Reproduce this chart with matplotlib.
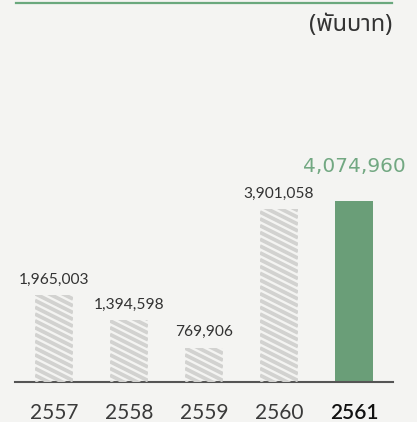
import numpy as np
import matplotlib
matplotlib.use('Agg')
import matplotlib.pyplot as plt
from matplotlib.collections import LineCollection

# data (thousand baht)
years = ['2557', '2558', '2559', '2560', '2561']
values = [1965003, 1394598, 769906, 3901058, 4074960]
unit_label = '(พันบาท)'

BG = '#f4f4f2'
GREEN = '#6a9e78'
GREEN_TXT = '#72a882'
STRIPE = '#d2d2d0'

fig = plt.figure(figsize=(4.17, 4.22), dpi=100, facecolor=BG)
H = 422.0
W = 417.0
ax = fig.add_axes([15 / W, (H - 382) / H, 378 / W, 322 / H])
ax.set_facecolor(BG)

x = np.arange(len(years))
ax.set_xlim(-0.52, 4.52)
ax.set_ylim(0, 322 / 44.3 * 1e6)

colors = [BG] * (len(years) - 1) + [GREEN]
bars = ax.bar(x, values, width=0.507, color=colors, linewidth=0, zorder=2)

# diagonal stripes on the grey bars
p0 = ax.transData.transform((0, 0))
p1 = ax.transData.transform((1, 1e6))
kx = p1[0] - p0[0]
ky = (p1[1] - p0[1]) / 1e6
period = 6.8
slope = 0.5
for b in bars[:-1]:
    bx, by = b.get_x(), b.get_y()
    wpx = b.get_width() * kx
    hpx = b.get_height() * ky
    segs = []
    c = 0.0
    while c < hpx + slope * wpx + period:
        segs.append([(bx, by + c / ky), (bx + wpx / kx, by + (c - slope * wpx) / ky)])
        c += period
    lc = LineCollection(segs, colors=STRIPE, linewidths=2.7, zorder=3)
    ax.add_collection(lc, autolim=False)
    lc.set_clip_path(b)

# value labels
for i, v in enumerate(values):
    if i == len(values) - 1:
        ax.annotate(f'{v:,}', (x[i], v), xytext=(0, 21), textcoords='offset points',
                    ha='center', va='baseline', fontsize=14.5, color=GREEN_TXT,
                    family='DejaVu Sans')
    else:
        ax.annotate(f'{v:,}', (x[i], v), xytext=(0, 8.3), textcoords='offset points',
                    ha='center', va='baseline', fontsize=11.2, color='#333333',
                    family='Lato')

# axis
for s in ['top', 'right', 'left']:
    ax.spines[s].set_visible(False)
ax.spines['bottom'].set_color('#555555')
ax.spines['bottom'].set_linewidth(1.5)
ax.set_yticks([])
ax.set_xticks(x)
ax.set_xticklabels(years, family='Lato', fontsize=15, color='#3a3a3a')
ax.tick_params(axis='x', length=0, pad=15)
ax.get_xticklabels()[-1].set_color('#111111')
ax.get_xticklabels()[-1].set_fontweight('semibold')

# top green rule and unit label
fig.add_artist(plt.Line2D([16 / W, 392 / W], [1 - 3 / H, 1 - 3 / H], color='#6aa87d', linewidth=1.6))
fig.text(392 / W, 1 - 25 / H, unit_label, ha='right', va='center', fontsize=17, style='italic',
         color='#333333', family=['Noto Sans Thai', 'Noto Serif Thai', 'Loma', 'Garuda', 'Norasi',
                                  'Tlwg Typo', 'Kinnari', 'DejaVu Sans'])

fig.savefig('out.png', dpi=100, facecolor=BG)
